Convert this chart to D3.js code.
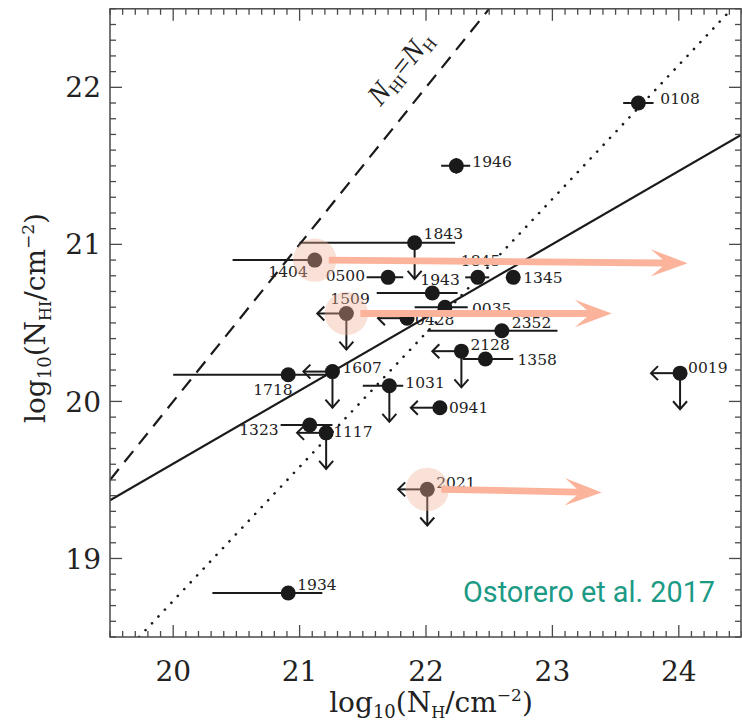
<!DOCTYPE html>
<html>
<head>
<meta charset="utf-8">
<script src="https://cdn.jsdelivr.net/npm/d3@7/dist/d3.min.js"></script>
<style>
  html, body { margin: 0; padding: 0; background: #fff; }
  svg { display: block; }
</style>
</head>
<body>
<svg id="chart" width="742" height="725"></svg>
<script>
// ---- Sources: log10 N_H (X-ray) vs log10 N_HI (21 cm) ----
const sources = ["0108","1946","1843","1404","0500","1943","1845","1345","0035","0428","2352",
                 "2128","1358","0019","1031","0941","1607","1718","1509","1323","1117","2021","1934"];
const logNH  = [23.68, 22.24, 21.91, 21.12, 21.70, 22.05, 22.41, 22.69, 22.15, 21.85, 22.60,
                22.28, 22.47, 24.01, 21.71, 22.11, 21.26, 20.91, 21.37, 21.08, 21.21, 22.01, 20.91];
const logNHI = [21.90, 21.50, 21.01, 20.90, 20.79, 20.69, 20.79, 20.79, 20.60, 20.53, 20.45,
                20.32, 20.27, 20.18, 20.10, 19.96, 20.19, 20.17, 20.56, 19.85, 19.80, 19.44, 18.78];
// error-bar extents on N_H (null = no bar)
const nhLow  = [23.56, 22.12, 21.00, 20.47, 21.53, 21.61, 22.31, null, 21.91, null, 22.01,
                null, 22.29, null, 21.50, null, null, 20.00, null, 20.85, null, null, 20.31];
const nhHigh = [23.80, 22.35, 22.23, null, 21.82, 22.25, 22.50, null, 22.33, null, 23.04,
                null, 22.69, null, 21.82, null, null, 21.22, null, 21.26, null, null, 21.18];
// error-bar extents on N_HI
const nhiLow  = [null, 21.45, null, null, null, null, null, null, null, null, null,
                 null, null, null, null, null, null, null, null, null, null, null, null];
const nhiHigh = [null, 21.55, null, null, null, null, null, null, null, null, null,
                 null, null, null, null, null, null, null, null, null, null, null, null];
// upper limits (arrows)
const nhUpper  = [0,0,0,0,0,0,0,0,0,1,0, 1,0,1,0,1,1,0,1,0,1,1,0];
const nhiUpper = [0,0,1,0,0,0,0,0,0,0,0, 1,0,1,1,0,1,0,1,0,1,1,0];
const limitLength = 0.23;

// highlighted sources and where their N_H moves to
const shiftedSources = ["1404", "1509", "2021"];
const shiftedNH  = [24.07, 23.47, 23.39];
const shiftedNHI = [20.88, 20.56, 19.42];

// reference relations, as end points in (log N_H, log N_HI)
const equalityLine = [[19.5, 19.5], [22.5, 22.5]];
const dottedLine   = [[19.73, 18.5], [24.42, 22.5]];
const fitLine      = [[19.5, 19.37], [24.5, 21.70]];

const xTickValues = [20, 21, 22, 23, 24];
const yTickValues = [19, 20, 21, 22];
const xDomain = [19.5, 24.5];
const yDomain = [18.5, 22.5];

// label placement around each marker (pixels: dx, dy, anchor)
const labelPlacement = {
  "0108": [22, -5, "start"], "1946": [16, -4, "start"], "1843": [9, -9, "start"],
  "1404": [-7, 11, "end"],   "0500": [-23, -2, "end"],  "1943": [-12, -14, "start"],
  "1845": [-17, -17, "start"], "1345": [10, 0, "start"], "0035": [27, 1, "start"],
  "0428": [8, 1, "start"],   "2352": [10, -8, "start"], "2128": [9, -7, "start"],
  "1358": [32, 0, "start"],  "0019": [8, -6, "start"],  "1031": [16, -3, "start"],
  "0941": [9, 0, "start"],   "1607": [10, -4, "start"], "1718": [-35, 15, "start"],
  "1509": [-16, -15, "start"], "1323": [-31, 4, "end"], "1117": [7, -1, "start"],
  "2021": [9, -7, "start"],  "1934": [9, -9, "start"]
};

(function draw() {
  const svg = d3.select("#chart");
  const pL = 110, pR = 742, pT = 8.8, pB = 637, frameR = 741;
  const x = d3.scaleLinear().domain(xDomain).range([pL, pR]);
  const y = d3.scaleLinear().domain(yDomain).range([pB, pT]);
  const ink = "#1a1a1a";
  const serif = "'DejaVu Serif', serif";

  svg.append("defs").append("clipPath").attr("id", "plot")
    .append("rect").attr("x", pL).attr("y", pT)
    .attr("width", frameR - pL).attr("height", pB - pT);

  const plot = svg.append("g").attr("clip-path", "url(#plot)");
  const line = d3.line().x(d => x(d[0])).y(d => y(d[1]));

  plot.append("path").attr("d", line(equalityLine)).attr("fill", "none")
    .attr("stroke", ink).attr("stroke-width", 2.2).attr("stroke-dasharray", "14,9");
  plot.append("path").attr("d", line(dottedLine)).attr("fill", "none")
    .attr("stroke", ink).attr("stroke-width", 2.6).attr("stroke-linecap", "round")
    .attr("stroke-dasharray", "0.1,9.3");
  plot.append("path").attr("d", line(fitLine)).attr("fill", "none")
    .attr("stroke", ink).attr("stroke-width", 2.2);

  const rows = sources.map((s, i) => ({
    s, nh: logNH[i], nhi: logNHI[i],
    nhLo: nhLow[i], nhHi: nhHigh[i], nhiLo: nhiLow[i], nhiHi: nhiHigh[i],
    limX: nhUpper[i], limY: nhiUpper[i]
  }));

  // error bars and limit arrows
  const bars = plot.append("g").attr("stroke", ink).attr("stroke-width", 2).attr("fill", "none");
  rows.forEach(d => {
    if (d.nhLo !== null) {
      bars.append("line").attr("x1", x(d.nhLo)).attr("x2", x(d.nhHi === null ? d.nh : d.nhHi))
        .attr("y1", y(d.nhi)).attr("y2", y(d.nhi));
    }
    if (d.nhiLo !== null) {
      bars.append("line").attr("x1", x(d.nh)).attr("x2", x(d.nh))
        .attr("y1", y(d.nhiLo)).attr("y2", y(d.nhiHi));
    }
    if (d.limX) {
      const x0 = x(d.nh), x1 = x(d.nh - limitLength), yy = y(d.nhi);
      bars.append("line").attr("x1", x0).attr("x2", x1).attr("y1", yy).attr("y2", yy);
      bars.append("path").attr("d", `M${x1 + 7},${yy - 7} L${x1},${yy} L${x1 + 7},${yy + 7}`);
    }
    if (d.limY) {
      const xx = x(d.nh), y0 = y(d.nhi), y1 = y(d.nhi - limitLength);
      bars.append("line").attr("x1", xx).attr("x2", xx).attr("y1", y0).attr("y2", y1);
      bars.append("path").attr("d", `M${xx - 7},${y1 - 8} L${xx},${y1} L${xx + 7},${y1 - 8}`);
    }
  });

  // markers
  plot.append("g").selectAll("circle").data(rows).join("circle")
    .attr("cx", d => x(d.nh)).attr("cy", d => y(d.nhi)).attr("r", 7.5).attr("fill", ink);

  // source names
  svg.append("g").selectAll("text").data(rows).join("text")
    .attr("x", d => x(d.nh) + labelPlacement[d.s][0])
    .attr("y", d => y(d.nhi) + labelPlacement[d.s][1])
    .attr("dy", "0.36em")
    .attr("text-anchor", d => labelPlacement[d.s][2])
    .attr("font-family", serif).attr("font-size", 15.5).attr("fill", "#222")
    .text(d => d.s);

  // highlighted sources: halo + arrow to the revised N_H
  const pink = "#fbb49b";
  const shifted = shiftedSources.map((s, i) => {
    const r = rows.find(d => d.s === s);
    return { nh: r.nh, nhi: r.nhi, toNH: shiftedNH[i], toNHI: shiftedNHI[i] };
  });
  svg.append("g").selectAll("circle").data(shifted).join("circle")
    .attr("cx", d => x(d.nh)).attr("cy", d => y(d.nhi)).attr("r", 21.7)
    .attr("fill", "rgb(242,178,153)").attr("fill-opacity", 0.39);

  const arrows = svg.append("g").attr("fill", pink);
  shifted.forEach(d => {
    const x0 = x(d.nh) + 14, y0 = y(d.nhi);
    const x1 = x(d.toNH), y1 = y(d.toNHI);
    const ang = Math.atan2(y1 - y0, x1 - x0);
    const len = Math.hypot(x1 - x0, y1 - y0);
    const g = arrows.append("g")
      .attr("transform", `translate(${x0},${y0}) rotate(${ang * 180 / Math.PI})`);
    const headLen = 37, headHalf = 13.7, notch = 12, shaft = 3.4;
    g.append("path").attr("d",
      `M0,${-shaft} L${len - headLen + notch},${-shaft} L${len - headLen},${-headHalf} ` +
      `L${len},0 L${len - headLen},${headHalf} L${len - headLen + notch},${shaft} L0,${shaft} Z`);
  });

  // frame and ticks
  const frameColor = "#4a4a4a";
  const minorX = d3.range(195, 246).map(v => v / 10);
  const minorY = d3.range(185, 226).map(v => v / 10);
  const ticks = svg.append("g").attr("stroke", frameColor).attr("stroke-width", 1.3);
  minorX.forEach(v => {
    const major = xTickValues.some(t => Math.abs(t - v) < 1e-6);
    const L = major ? 12 : 6;
    ticks.append("line").attr("x1", x(v)).attr("x2", x(v)).attr("y1", pB).attr("y2", pB - L);
    ticks.append("line").attr("x1", x(v)).attr("x2", x(v)).attr("y1", pT).attr("y2", pT + L);
  });
  minorY.forEach(v => {
    const major = yTickValues.some(t => Math.abs(t - v) < 1e-6);
    const L = major ? 12 : 6;
    ticks.append("line").attr("y1", y(v)).attr("y2", y(v)).attr("x1", pL).attr("x2", pL + L);
    ticks.append("line").attr("y1", y(v)).attr("y2", y(v)).attr("x1", frameR).attr("x2", frameR - L);
  });
  svg.append("rect").attr("x", pL).attr("y", pT).attr("width", frameR - pL).attr("height", pB - pT)
    .attr("fill", "none").attr("stroke", frameColor).attr("stroke-width", 1.5);

  // tick labels
  svg.append("g").selectAll("text").data(xTickValues).join("text")
    .attr("x", d => x(d)).attr("y", 681).attr("text-anchor", "middle")
    .attr("font-family", serif).attr("font-size", 28).attr("fill", "#222").text(d => d);
  svg.append("g").selectAll("text").data(yTickValues).join("text")
    .attr("x", 101).attr("y", d => y(d)).attr("dy", "0.36em").attr("text-anchor", "end")
    .attr("font-family", serif).attr("font-size", 28).attr("fill", "#222").text(d => d);

  // axis titles
  function title(sel, sub) {
    sel.append("tspan").text("log");
    sel.append("tspan").attr("font-size", 18).attr("dy", 6).text("10");
    sel.append("tspan").attr("dy", -6).text("(N");
    sel.append("tspan").attr("font-size", 16).attr("dy", 6).text(sub);
    sel.append("tspan").attr("dy", -6).text("/cm");
    sel.append("tspan").attr("font-size", 17).attr("dy", -11).text("\u22122");
    sel.append("tspan").attr("dy", 11).text(")");
  }
  const xt = svg.append("text").attr("x", 431).attr("y", 712).attr("text-anchor", "middle")
    .attr("font-family", serif).attr("font-size", 28).attr("fill", "#222");
  title(xt, "H");
  const yt = svg.append("text").attr("transform", "translate(45,318) rotate(-90)")
    .attr("text-anchor", "middle")
    .attr("font-family", serif).attr("font-size", 28).attr("fill", "#222");
  title(yt, "HI");

  // label on the equality line
  const eq = svg.append("text")
    .attr("transform", `translate(${x(21.64)},${y(21.875)}) rotate(-51)`)
    .attr("font-family", "'Liberation Serif', serif").attr("font-size", 29).attr("fill", "#222");
  eq.append("tspan").attr("font-style", "italic").text("N");
  eq.append("tspan").attr("font-size", 17).attr("dy", 5).text("HI");
  eq.append("tspan").attr("dy", -5).text("=");
  eq.append("tspan").attr("font-style", "italic").text("N");
  eq.append("tspan").attr("font-size", 17).attr("dy", 5).text("H");

  // citation
  svg.append("text").attr("x", 715).attr("y", 602).attr("text-anchor", "end")
    .attr("font-family", "Roboto, sans-serif").attr("font-size", 28.8).attr("fill", "#1b9a85")
    .text("Ostorero et al. 2017");
})();
</script>
</body>
</html>
